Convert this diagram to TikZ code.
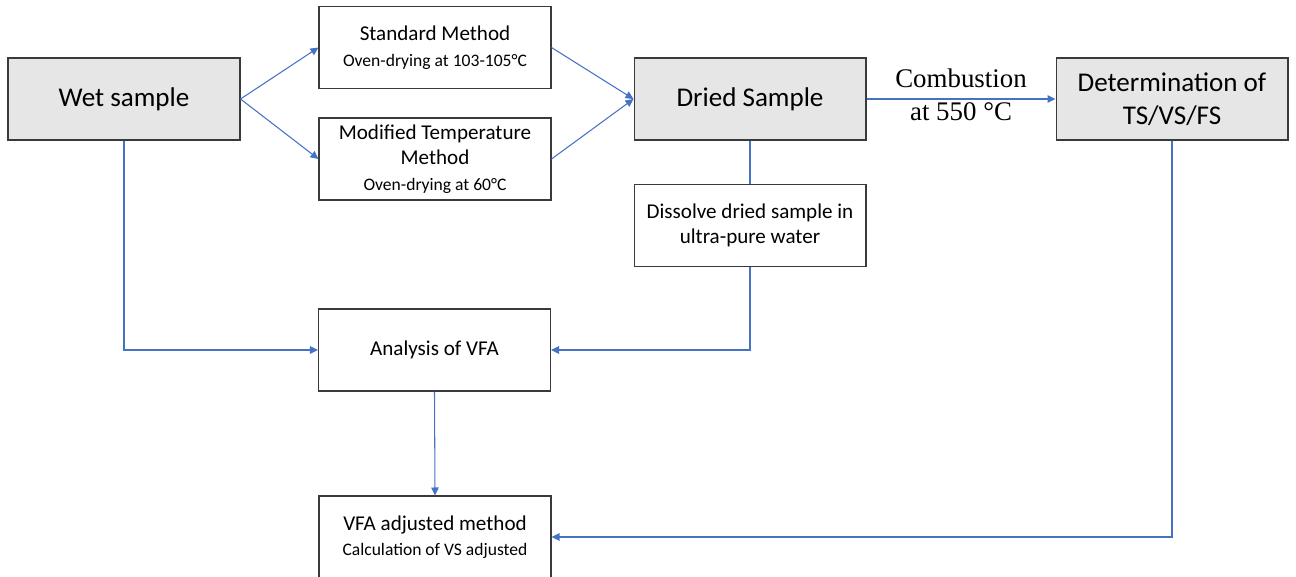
\documentclass[tikz,border=0pt]{standalone}
\usepackage{fontspec}
\setmainfont{Carlito}
\newfontfamily\serifrm{Liberation Serif}
\usepackage{xcolor}
\usepackage{tikz}
\usetikzlibrary{
  positioning,
  arrows.meta
}
\definecolor{flowblue}{HTML}{4472C4}
\definecolor{boxgray}{HTML}{E7E6E6}
\definecolor{boxline}{HTML}{3A3A3A}
\newcommand{\bigtxt}{\fontsize{15.4}{19}\selectfont}
\newcommand{\midtxt}{\fontsize{12}{14.6}\selectfont}
\newcommand{\smalltxt}{\fontsize{10}{12.5}\selectfont}

\tikzset{
  stepmain/.style={draw=boxline, fill=boxgray, line width=0.6pt,
    minimum width=4.64cm, minimum height=1.64cm, align=center, font=\bigtxt},
  stepsub/.style={draw=boxline, fill=white, line width=0.6pt,
    minimum width=4.64cm, minimum height=1.64cm, align=center, font=\midtxt},
  flow/.style={flowblue, line width=0.6pt, -{Triangle[length=1.6mm, width=1.5mm]}},
  link/.style={flowblue, line width=0.6pt},
  steplabel/.style={text=black, font=\serifrm\fontsize{15.3}{18}\selectfont}
}

\begin{document}
\begin{tikzpicture}[x=0.02cm, y=-0.02cm]
  \useasboundingbox (0,0) rectangle (1296,576);

  % 主要步骤
  \node[stepmain] (wet) at (124,99) {Wet sample};
  \node[stepmain] (dried) at (750,99) {Dried Sample};
  \node[stepmain] (tsvs) at (1172,99) {Determination of\\TS/VS/FS};
  % 干燥方法
  \node[stepsub] (std) at (435,47.5) {Standard Method\\{\smalltxt Oven-drying at 103-105°C}};
  \node[stepsub] (mod) at (435,159) {Modified Temperature\\Method\\{\smalltxt Oven-drying at 60°C}};
  % VFA 分析
  \node[stepsub] (diss) at (750,225.5) {Dissolve dried sample in\\ultra-pure water};
  \node[stepsub] (vfa) at (434.5,350) {Analysis of VFA};
  \node[stepsub] (adj) at (435,537) {VFA adjusted method\\{\smalltxt Calculation of VS adjusted}};

  % 连线
  \draw[flow] (wet.east) -- (std.west);
  \draw[flow] (wet.east) -- (mod.west);
  \draw[flow] (std.east) -- (dried.west);
  \draw[flow] (mod.east) -- (dried.west);
  \draw[flow] (dried.east) -- (tsvs.west)
    node[midway, above, inner sep=6pt, steplabel] (comb) {Combustion}
    node[midway, below, inner sep=1.5pt, steplabel] (temp) {at 550 °C};
  \draw[link] (dried.south) -- (diss.north);
  \draw[flow] (diss.south) |- (vfa.east);
  \draw[flow] (wet.south) |- (vfa.west);
  \draw[flow] (vfa.south) -- (adj.north);
  \draw[flow] (tsvs.south) |- (adj.east);
\end{tikzpicture}
\end{document}
